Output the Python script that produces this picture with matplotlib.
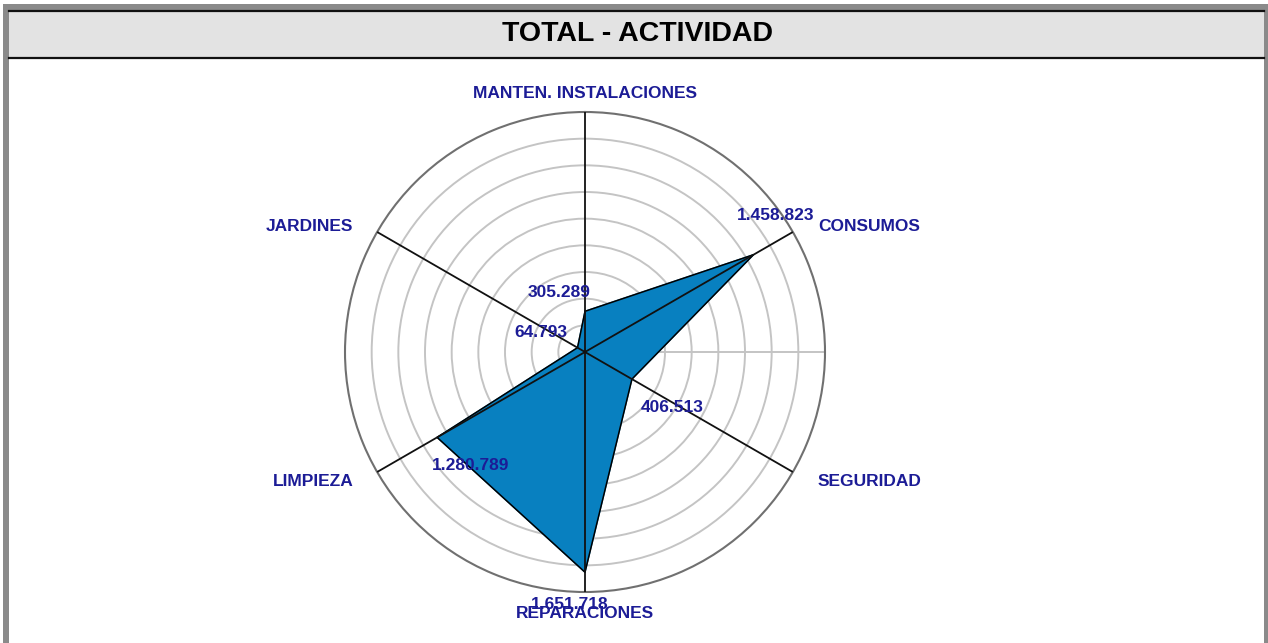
import numpy as np
import matplotlib.pyplot as plt
from matplotlib.patches import Rectangle
from matplotlib.lines import Line2D

# data
categorias = ['MANTEN. INSTALACIONES', 'CONSUMOS', 'SEGURIDAD', 'REPARACIONES', 'LIMPIEZA', 'JARDINES']
valores = [305289, 1458823, 406513, 1651718, 1280789, 64793]
etiquetas = ['305.289', '1.458.823', '406.513', '1.651.718', '1.280.789', '64.793']
r_max = 1800000
anillos = [200000, 400000, 600000, 800000, 1000000, 1200000, 1400000, 1600000]

plt.rcParams['font.family'] = ['Liberation Sans', 'DejaVu Sans']
azul = '#1c1c96'

W, H = 1268, 643
fig = plt.figure(figsize=(W / 100, H / 100), dpi=100)

# frame and title band (pixel coords -> figure fractions)
def rect(x0, y0, x1, y1, **kw):
    fig.patches.append(Rectangle((x0 / W, 1 - y1 / H), (x1 - x0) / W, (y1 - y0) / H,
                                 transform=fig.transFigure, zorder=-10, **kw))

rect(3, 4, 1268, 643, facecolor='#8a8a8a', edgecolor='none')
rect(9, 10, 1264, 643, facecolor='white', edgecolor='none')
rect(9, 10, 1264, 58, facecolor='#e3e3e3', edgecolor='none')
for yy in (10.5, 58):
    fig.lines.append(Line2D([9 / W, 1264 / W], [1 - yy / H, 1 - yy / H],
                            transform=fig.transFigure, color='#111111', lw=1.6, zorder=-9))
fig.text(638 / W, 1 - 34 / H, 'TOTAL - ACTIVIDAD', ha='center', va='center',
         fontsize=20.5, fontweight='bold', color='black')

# radar
cx, cy, R = 585, 352, 240
ax = fig.add_axes([(cx - R) / W, 1 - (cy + R) / H, 2 * R / W, 2 * R / H], projection='polar')
ax.set_theta_zero_location('N')
ax.set_theta_direction(-1)
ax.set_ylim(0, r_max)
ax.set_xticks([])
ax.set_yticks(anillos)
ax.set_yticklabels([])
ax.yaxis.grid(True, color='#c4c4c4', lw=1.4)
ax.xaxis.grid(False)
ax.spines['polar'].set_color('#707070')
ax.spines['polar'].set_linewidth(1.5)
ax.patch.set_facecolor('white')

ang = np.deg2rad(np.arange(len(categorias)) * 60)

# light radial line at 90 degrees
ax.plot([np.pi / 2, np.pi / 2], [0, r_max], color='#c4c4c4', lw=1.4, zorder=1)

th = np.append(ang, ang[0])
vv = np.append(valores, valores[0])
ax.fill(th, vv, color='#0880c0', zorder=2)
ax.plot(th, vv, color='black', lw=1.1, zorder=3)

# spokes
for a in ang:
    ax.plot([a, a], [0, r_max], color='#111111', lw=1.3, zorder=4)

# category labels
cat_off = [(0, 19, 'center'), (25, 6, 'left'), (25, -9, 'left'),
           (0, -21, 'center'), (-24, -9, 'right'), (-24, 6, 'right')]
for a, c, (dx, dy, ha) in zip(ang, categorias, cat_off):
    ax.annotate(c, xy=(a, r_max), xytext=(dx, dy), textcoords='offset pixels',
                ha=ha, va='center', fontsize=12.5, fontweight='bold', color=azul,
                annotation_clip=False, zorder=6)

# value labels
val_off = [(-26, 19), (22, 39), (40, -28), (-15, -32), (33, -28), (-37, 15)]
for a, v, t, (dx, dy) in zip(ang, valores, etiquetas, val_off):
    ax.annotate(t, xy=(a, v), xytext=(dx, dy), textcoords='offset pixels',
                ha='center', va='center', fontsize=12.5, fontweight='bold', color=azul,
                annotation_clip=False, zorder=6)

fig.savefig('out.png', dpi=100)
